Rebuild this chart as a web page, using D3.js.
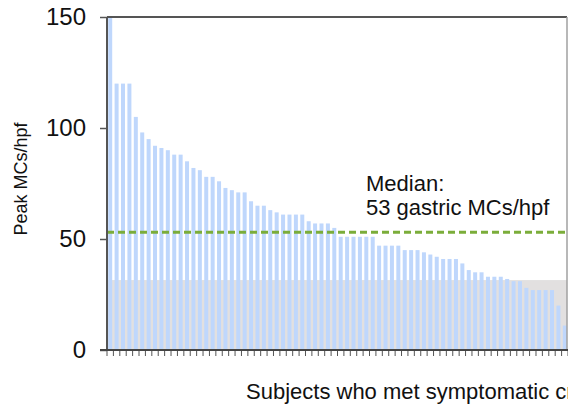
<!DOCTYPE html>
<html>
<head>
<meta charset="utf-8">
<script src="https://cdn.jsdelivr.net/npm/d3@7"></script>
<style>
  body { margin: 0; background: #fff; }
  svg { display: block; font-family: "Liberation Sans", Arial, sans-serif; }
</style>
</head>
<body>
<div id="container"></div>
<script>
/* DATA */
// peak mast cells per high power field, one bar per subject, sorted high to low
const peakValues = [150, 120, 120, 120, 105, 98, 95, 92, 91, 90,
  88, 88, 85, 82, 81, 78, 78, 76, 73, 72,
  71, 71, 67, 65, 65, 63, 62, 61, 61, 61,
  61, 58, 57, 57, 57, 55, 51, 51, 51, 51,
  51, 51, 47, 47, 47, 47, 45, 45, 45, 44,
  43, 42, 41, 41, 41, 39, 36, 35, 35, 33,
  33, 33, 32, 31, 31, 28, 27, 27, 27, 27,
  20, 11]
const subjects = peakValues.map((d, i) => `S${i + 1}`)
const yTicks = [0, 50, 100, 150]
const medianValue = 53
const shadedTop = 31.5
const annotationLines = ["Median:", "53 gastric MCs/hpf"]

/* CONSTANTS AND GLOBALS */
const width = 568,
  height = 404,
  margin = { top: 17, bottom: 54, left: 107, right: 0 }

const svg = d3.select("#container")
  .append("svg")
  .attr("width", width)
  .attr("height", height)

// + SCALES
const xScale = d3.scaleBand()
  .domain(subjects)
  .range([margin.left, width - margin.right])
  .paddingInner(0.375)
  .paddingOuter(0.1875)

const yScale = d3.scaleLinear()
  .domain([0, 150])
  .range([height - margin.bottom, margin.top])

const plotRight = width - 1

// SHADED BAND behind the bars
svg.append("rect")
  .attr("x", margin.left)
  .attr("y", yScale(shadedTop))
  .attr("width", plotRight - margin.left)
  .attr("height", yScale(0) - yScale(shadedTop))
  .attr("fill", "#e2e0e0")

// BARS
svg.selectAll(".bar")
  .data(peakValues)
  .join("rect")
  .attr("class", "bar")
  .attr("x", (d, i) => xScale(subjects[i]))
  .attr("y", d => yScale(d))
  .attr("width", xScale.bandwidth())
  .attr("height", d => yScale(0) - yScale(d))
  .attr("fill", "#bfd7fc")

// MEDIAN LINE
svg.append("line")
  .attr("x1", margin.left)
  .attr("x2", plotRight)
  .attr("y1", yScale(medianValue))
  .attr("y2", yScale(medianValue))
  .attr("stroke", "#7bad3a")
  .attr("stroke-width", 3)
  .attr("stroke-dasharray", "7,4")

// FRAME: top and right edges
svg.append("line")
  .attr("x1", margin.left).attr("x2", plotRight)
  .attr("y1", margin.top).attr("y2", margin.top)
  .attr("stroke", "#555").attr("stroke-width", 2)

svg.append("line")
  .attr("x1", plotRight).attr("x2", plotRight)
  .attr("y1", margin.top).attr("y2", yScale(0))
  .attr("stroke", "#a0a0a0").attr("stroke-width", 1.5)

// BUILD AND CALL AXES
const yAxis = d3.axisLeft(yScale)
  .tickValues(yTicks)
  .tickSize(7)
  .tickPadding(14)

const yAxisGroup = svg.append("g")
  .attr("class", "yAxis")
  .attr("transform", `translate(${margin.left}, 0)`)
  .call(yAxis)

yAxisGroup.select(".domain").remove()
yAxisGroup.append("line")
  .attr("y1", margin.top).attr("y2", yScale(0))
  .attr("stroke", "#555").attr("stroke-width", 2)
yAxisGroup.selectAll(".tick line").attr("stroke", "#555").attr("stroke-width", 1.5)
yAxisGroup.selectAll(".tick text")
  .style("font-size", "24px")
  .attr("fill", "#111")

// x ticks sit on the boundaries between bars
const gap = xScale.step() * xScale.paddingInner()
const xBoundaries = subjects.map(s => xScale(s) - gap / 2)
  .concat([xScale(subjects[subjects.length - 1]) + xScale.bandwidth() + gap / 2])

const xAxisGroup = svg.append("g")
  .attr("class", "xAxis")
  .attr("transform", `translate(0, ${yScale(0)})`)

xAxisGroup.selectAll(".xtick")
  .data(xBoundaries)
  .join("line")
  .attr("class", "xtick")
  .attr("x1", d => d).attr("x2", d => d)
  .attr("y1", 0).attr("y2", 6)
  .attr("stroke", "#555")
  .attr("stroke-width", 1)

xAxisGroup.append("line")
  .attr("x1", margin.left - 7).attr("x2", width)
  .attr("y1", 0).attr("y2", 0)
  .attr("stroke", "#444").attr("stroke-width", 2)

// AXIS LABELS
// the label runs past the right edge, as in the original figure crop
svg.append("text")
  .attr("class", "xLabel")
  .attr("x", 246)
  .attr("y", 399)
  .text("Subjects who met symptomatic criteria")
  .style("font-size", "22px")
  .attr("fill", "#111")

svg.append("text")
  .attr("class", "yLabel")
  .attr("transform", "translate(27, 179) rotate(-90)")
  .attr("text-anchor", "middle")
  .text("Peak MCs/hpf")
  .style("font-size", "18px")
  .attr("fill", "#111")

// MEDIAN ANNOTATION
svg.append("text")
  .attr("class", "annotation")
  .attr("x", 366)
  .attr("y", 191)
  .style("font-size", "22px")
  .attr("fill", "#111")
  .selectAll("tspan")
  .data(annotationLines)
  .join("tspan")
  .attr("x", 366)
  .attr("dy", (d, i) => i === 0 ? 0 : 24)
  .text(d => d)
</script>
</body>
</html>
